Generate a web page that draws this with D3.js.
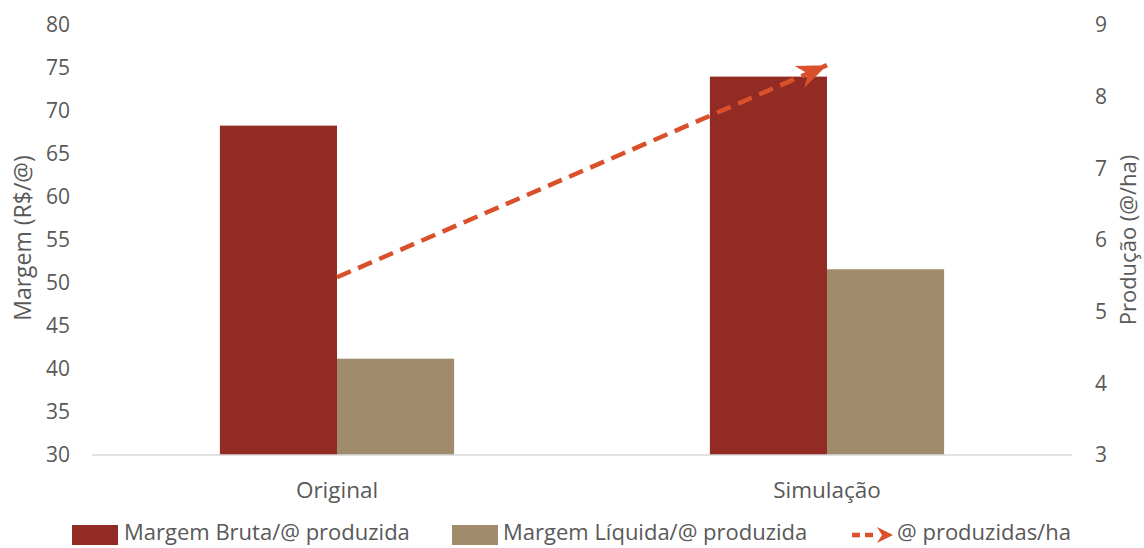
<!DOCTYPE html>
<html><head><meta charset="utf-8">
<script src="https://cdn.jsdelivr.net/npm/d3@7"></script>
<style>body{margin:0;background:#fff}svg{display:block}</style>
</head><body><svg id="c" width="1144" height="548"></svg>
<script>
const categories = ["Original", "Simulação"];
const margemBruta = [68.3, 74.0];
const margemLiquida = [41.2, 51.6];
const producao = [5.48, 8.44];
const leftTicks = [30, 35, 40, 45, 50, 55, 60, 65, 70, 75, 80];
const rightTicks = [3, 4, 5, 6, 7, 8, 9];
const seriesNames = ["Margem Bruta/@ produzida", "Margem Líquida/@ produzida", "@ produzidas/ha"];
const colors = ["#922B24", "#A08C6C", "#D9502A"];

const svg = d3.select("#c");
const font = "'Open Sans', sans-serif";
const textColor = "#595959";
const m = {l: 92, r: 1072, t: 25, b: 455};

const x = d3.scaleBand().domain(categories).range([m.l, m.r]).paddingInner(0.522).paddingOuter(0.261);
const xs = d3.scaleBand().domain([0, 1]).range([0, x.bandwidth()]);
const yL = d3.scaleLinear().domain([30, 80]).range([m.b, m.t]);
const yR = d3.scaleLinear().domain([3, 9]).range([m.b, m.t]);

// bars
const series = [margemBruta, margemLiquida];
series.forEach((vals, si) => {
  svg.append("g").selectAll("rect").data(categories).join("rect")
    .attr("x", d => x(d) + xs(si))
    .attr("width", xs.bandwidth())
    .attr("y", (d, i) => yL(vals[i]))
    .attr("height", (d, i) => yL(30) - yL(vals[i]))
    .attr("fill", colors[si]);
});

// baseline
svg.append("line").attr("x1", m.l).attr("x2", m.r).attr("y1", m.b).attr("y2", m.b)
  .attr("stroke", "#d9d9d9").attr("stroke-width", 1.5);

// left axis
const axL = d3.axisLeft(yL).tickValues(leftTicks).tickSize(0).tickPadding(0).tickFormat(d3.format("d"));
const gL = svg.append("g").attr("transform", "translate(70,0)").call(axL);
gL.select(".domain").remove();
gL.selectAll("text").attr("font-family", font).attr("font-size", 21).attr("fill", textColor);

// right axis
const axR = d3.axisRight(yR).tickValues(rightTicks).tickSize(0).tickPadding(0).tickFormat(d3.format("d"));
const gR = svg.append("g").attr("transform", "translate(1095,0)").call(axR);
gR.select(".domain").remove();
gR.selectAll("text").attr("font-family", font).attr("font-size", 21).attr("fill", textColor);

// x axis labels
const axX = d3.axisBottom(x).tickSize(0).tickPadding(0);
const gX = svg.append("g").attr("transform", "translate(0,482)").call(axX);
gX.select(".domain").remove();
gX.selectAll("text").attr("font-family", font).attr("font-size", 22.5).attr("fill", textColor);

// axis titles
svg.append("text").attr("transform", "translate(31,238) rotate(-90)").attr("text-anchor", "middle")
  .attr("font-family", font).attr("font-size", 23).attr("fill", textColor).text("Margem (R$/@)");
svg.append("text").attr("transform", "translate(1136,240) rotate(-90)").attr("text-anchor", "middle")
  .attr("font-family", font).attr("font-size", 22).attr("fill", textColor).text("Produção (@/ha)");

// arrow marker
const defs = svg.append("defs");
defs.append("marker").attr("id", "arr").attr("markerUnits", "userSpaceOnUse")
  .attr("viewBox", "-32 -13 34 26").attr("refX", 0).attr("refY", 0)
  .attr("markerWidth", 34).attr("markerHeight", 26).attr("orient", "auto")
  .append("path").attr("d", "M0,0 L-30,-12 L-21,0 L-30,12 Z").attr("fill", colors[2]);

// line
const line = d3.line().x(d => x(d[0]) + x.bandwidth() / 2).y(d => yR(d[1]));
svg.append("path").datum(categories.map((c, i) => [c, producao[i]]))
  .attr("d", line).attr("fill", "none").attr("stroke", colors[2])
  .attr("stroke-width", 4.5).attr("stroke-dasharray", "15,8")
  .attr("marker-end", "url(#arr)");

// legend
const lg = svg.append("g");
const ly = 533;
const fs = 22;
lg.append("rect").attr("x", 72).attr("y", 525).attr("width", 46).attr("height", 20).attr("fill", colors[0]);
lg.append("text").attr("x", 124).attr("y", ly).attr("dy", "0.33em").attr("font-family", font)
  .attr("font-size", fs).attr("fill", textColor).text(seriesNames[0]);
lg.append("rect").attr("x", 452).attr("y", 525).attr("width", 46).attr("height", 20).attr("fill", colors[1]);
lg.append("text").attr("x", 503).attr("y", ly).attr("dy", "0.33em").attr("font-family", font)
  .attr("font-size", fs).attr("fill", textColor).text(seriesNames[1]);
lg.append("line").attr("x1", 852).attr("x2", 878).attr("y1", ly + 2).attr("y2", ly + 2)
  .attr("stroke", colors[2]).attr("stroke-width", 4.5).attr("stroke-dasharray", "8,5");
lg.append("path").attr("transform", `translate(893,${ly + 2})`).attr("d", "M0,0 L-16,-8 L-11,0 L-16,8 Z").attr("fill", colors[2]);
lg.append("text").attr("x", 897).attr("y", ly).attr("dy", "0.33em").attr("font-family", font)
  .attr("font-size", fs).attr("fill", textColor).text(seriesNames[2]);
</script></body></html>
